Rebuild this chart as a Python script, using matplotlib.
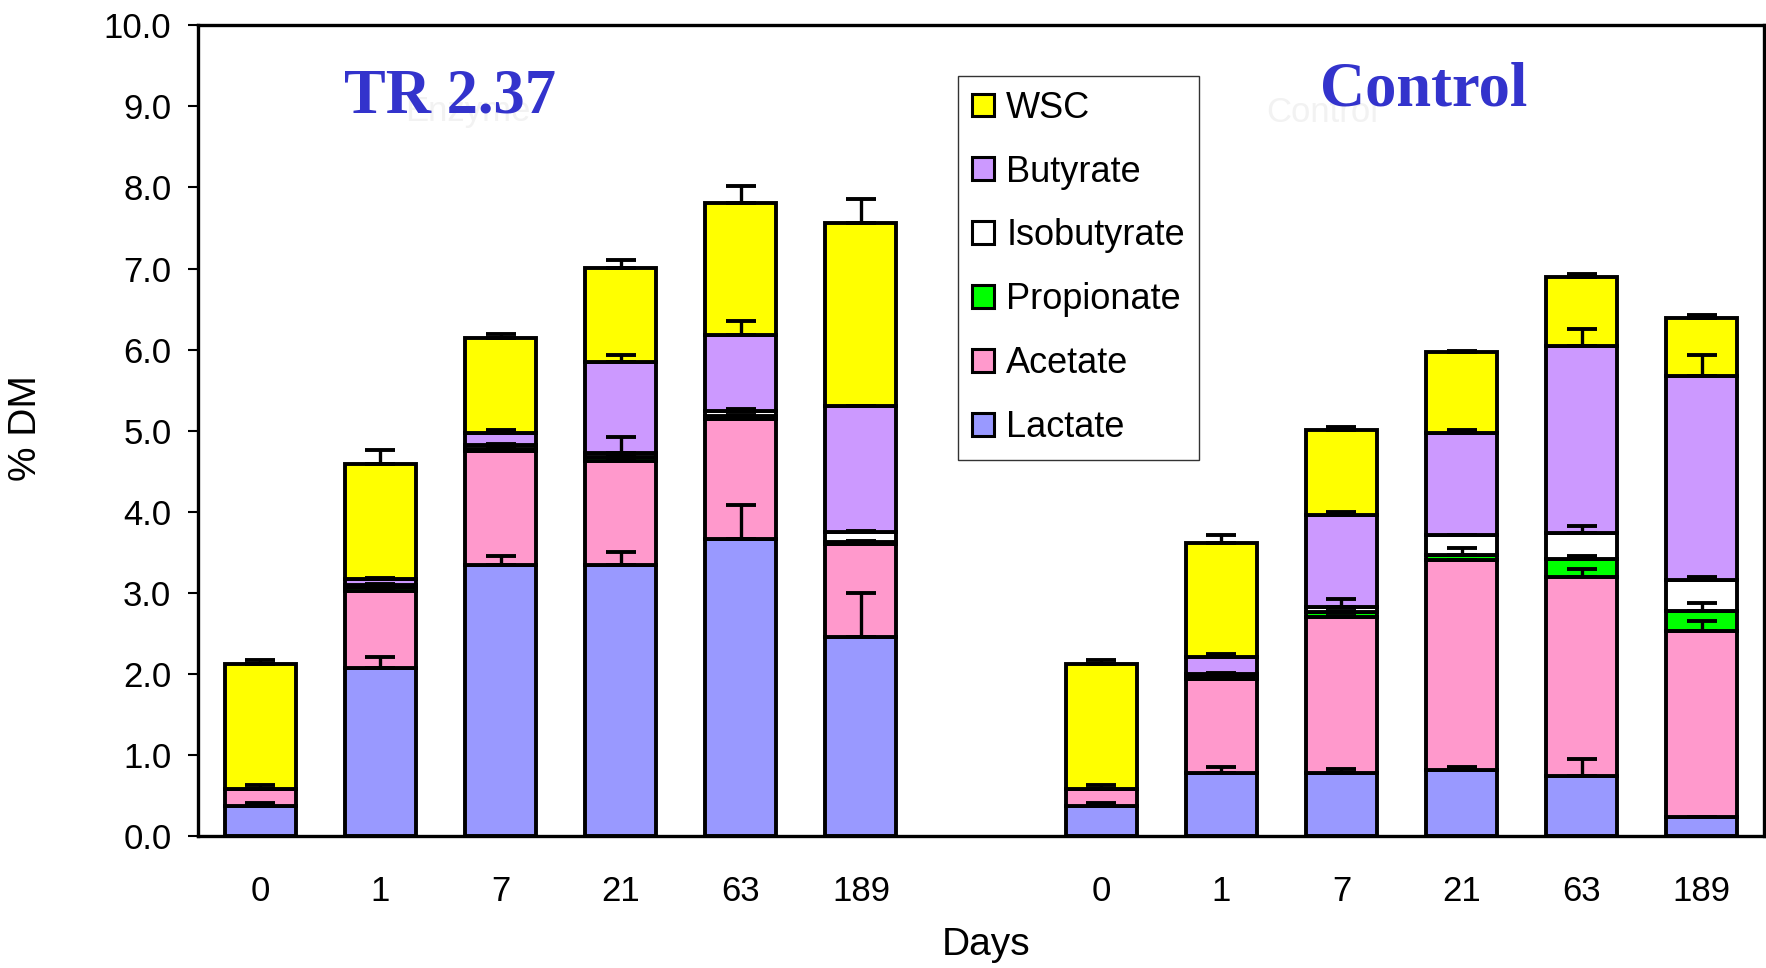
import numpy as np
import matplotlib
matplotlib.use("Agg")
import matplotlib.pyplot as plt
from matplotlib.patches import Patch

# Categories
days = ["0", "1", "7", "21", "63", "189"]
groups = ["TR 2.37", "Control"]
components = ["Lactate", "Acetate", "Propionate", "Isobutyrate", "Butyrate", "WSC"]

# Segment amounts (% DM), stacked bottom to top
tr_lactate = [0.37, 2.08, 3.34, 3.34, 3.66, 2.46]
tr_acetate = [0.21, 0.95, 1.41, 1.29, 1.49, 1.15]
tr_propionate = [0.00, 0.04, 0.03, 0.05, 0.03, 0.02]
tr_isobutyrate = [0.00, 0.03, 0.04, 0.04, 0.06, 0.12]
tr_butyrate = [0.00, 0.07, 0.15, 1.13, 0.94, 1.55]
tr_wsc = [1.54, 1.42, 1.17, 1.16, 1.63, 2.26]

ctl_lactate = [0.37, 0.78, 0.78, 0.82, 0.74, 0.24]
ctl_acetate = [0.21, 1.16, 1.92, 2.59, 2.46, 2.29]
ctl_propionate = [0.00, 0.03, 0.06, 0.06, 0.22, 0.25]
ctl_isobutyrate = [0.00, 0.03, 0.07, 0.24, 0.32, 0.38]
ctl_butyrate = [0.00, 0.21, 1.13, 1.26, 2.31, 2.51]
ctl_wsc = [1.54, 1.41, 1.05, 1.00, 0.85, 0.72]

# Upper error bars for each segment
tr_lactate_err = [0.04, 0.13, 0.12, 0.17, 0.43, 0.54]
tr_acetate_err = [0.05, 0.02, 0.03, 0.02, 0.02, 0.02]
tr_propionate_err = [0.00, 0.01, 0.01, 0.01, 0.01, 0.01]
tr_isobutyrate_err = [0.00, 0.01, 0.02, 0.20, 0.03, 0.01]
tr_butyrate_err = [0.00, 0.01, 0.04, 0.08, 0.17, 0.00]
tr_wsc_err = [0.06, 0.17, 0.05, 0.09, 0.21, 0.30]

ctl_lactate_err = [0.04, 0.08, 0.05, 0.04, 0.21, 0.00]
ctl_acetate_err = [0.05, 0.02, 0.02, 0.00, 0.09, 0.13]
ctl_propionate_err = [0.00, 0.01, 0.02, 0.08, 0.04, 0.10]
ctl_isobutyrate_err = [0.00, 0.01, 0.09, 0.00, 0.09, 0.04]
ctl_butyrate_err = [0.00, 0.04, 0.04, 0.04, 0.21, 0.26]
ctl_wsc_err = [0.06, 0.09, 0.04, 0.01, 0.03, 0.04]

colors = {"Lactate": "#9999FF", "Acetate": "#FF99CC", "Propionate": "#00FF00",
          "Isobutyrate": "#FFFFFF", "Butyrate": "#CC99FF", "WSC": "#FFFF00"}

segments = [
    np.array(tr_lactate + ctl_lactate),
    np.array(tr_acetate + ctl_acetate),
    np.array(tr_propionate + ctl_propionate),
    np.array(tr_isobutyrate + ctl_isobutyrate),
    np.array(tr_butyrate + ctl_butyrate),
    np.array(tr_wsc + ctl_wsc),
]
errors = [
    np.array(tr_lactate_err + ctl_lactate_err),
    np.array(tr_acetate_err + ctl_acetate_err),
    np.array(tr_propionate_err + ctl_propionate_err),
    np.array(tr_isobutyrate_err + ctl_isobutyrate_err),
    np.array(tr_butyrate_err + ctl_butyrate_err),
    np.array(tr_wsc_err + ctl_wsc_err),
]

x = np.concatenate([np.arange(6), np.arange(7, 13)])

plt.rcParams["font.family"] = ["Liberation Sans", "DejaVu Sans"]
fig = plt.figure(figsize=(17.66, 9.68), dpi=100)
ax = fig.add_axes([0.112, 0.136, 0.887, 0.838])

bottom = np.zeros(len(x))
tops = []
for name, seg in zip(components, segments):
    ax.bar(x, seg, 0.59, bottom=bottom, color=colors[name], edgecolor="black",
           linewidth=2.8, zorder=2)
    bottom = bottom + seg
    tops.append(bottom.copy())

# error bars drawn last so they show over the segment above
for top, err in zip(tops, errors):
    ax.errorbar(x, top, yerr=[np.zeros(len(err)), err], fmt="none", ecolor="black",
                elinewidth=2.4, capsize=11, capthick=2.8, zorder=4)

ax.set_xlim(-0.52, 12.52)
ax.set_ylim(0, 10)
ax.set_yticks(np.arange(0, 10.1, 1.0))
ax.set_yticklabels([f"{v:.1f}" for v in np.arange(0, 10.1, 1.0)])
ax.set_xticks(x)
ax.set_xticklabels(days + days)
ax.tick_params(axis="y", direction="out", length=7, width=1.5, labelsize=25, pad=12)
ax.tick_params(axis="x", length=0, labelsize=25, pad=28)
for sp in ax.spines.values():
    sp.set_linewidth(2.4)

ax.set_ylabel("% DM", fontsize=28)
ax.yaxis.set_label_coords(-0.098, 0.503)
ax.set_xlabel("Days", fontsize=28)
ax.xaxis.set_label_coords(0.503, -0.112)

# faint leftover labels and the group titles
fig.text(0.265, 0.885, "Enzyme", fontsize=25, color="#F2F2F2", ha="center", va="center")
fig.text(0.749, 0.884, "Control", fontsize=25, color="#F2F2F2", ha="center", va="center")
fig.text(0.255, 0.899, groups[0], fontsize=45, fontweight="bold", color="#3333CC",
         family="Liberation Serif", ha="center", va="center")
fig.text(0.806, 0.907, groups[1], fontsize=45, fontweight="bold", color="#3333CC",
         family="Liberation Serif", ha="center", va="center")

handles = [Patch(facecolor=colors[n], edgecolor="black", linewidth=2.2, label=n)
           for n in components[::-1]]
leg = ax.legend(handles=handles, loc="upper left", bbox_to_anchor=(0.485, 0.937),
                fontsize=26, frameon=True, fancybox=False, handlelength=0.6,
                handleheight=0.6, handletextpad=0.35, labelspacing=0.8,
                borderpad=0.4, borderaxespad=0)
leg.get_frame().set_edgecolor("black")
leg.get_frame().set_linewidth(1.0)

fig.savefig("out.png", dpi=100)
